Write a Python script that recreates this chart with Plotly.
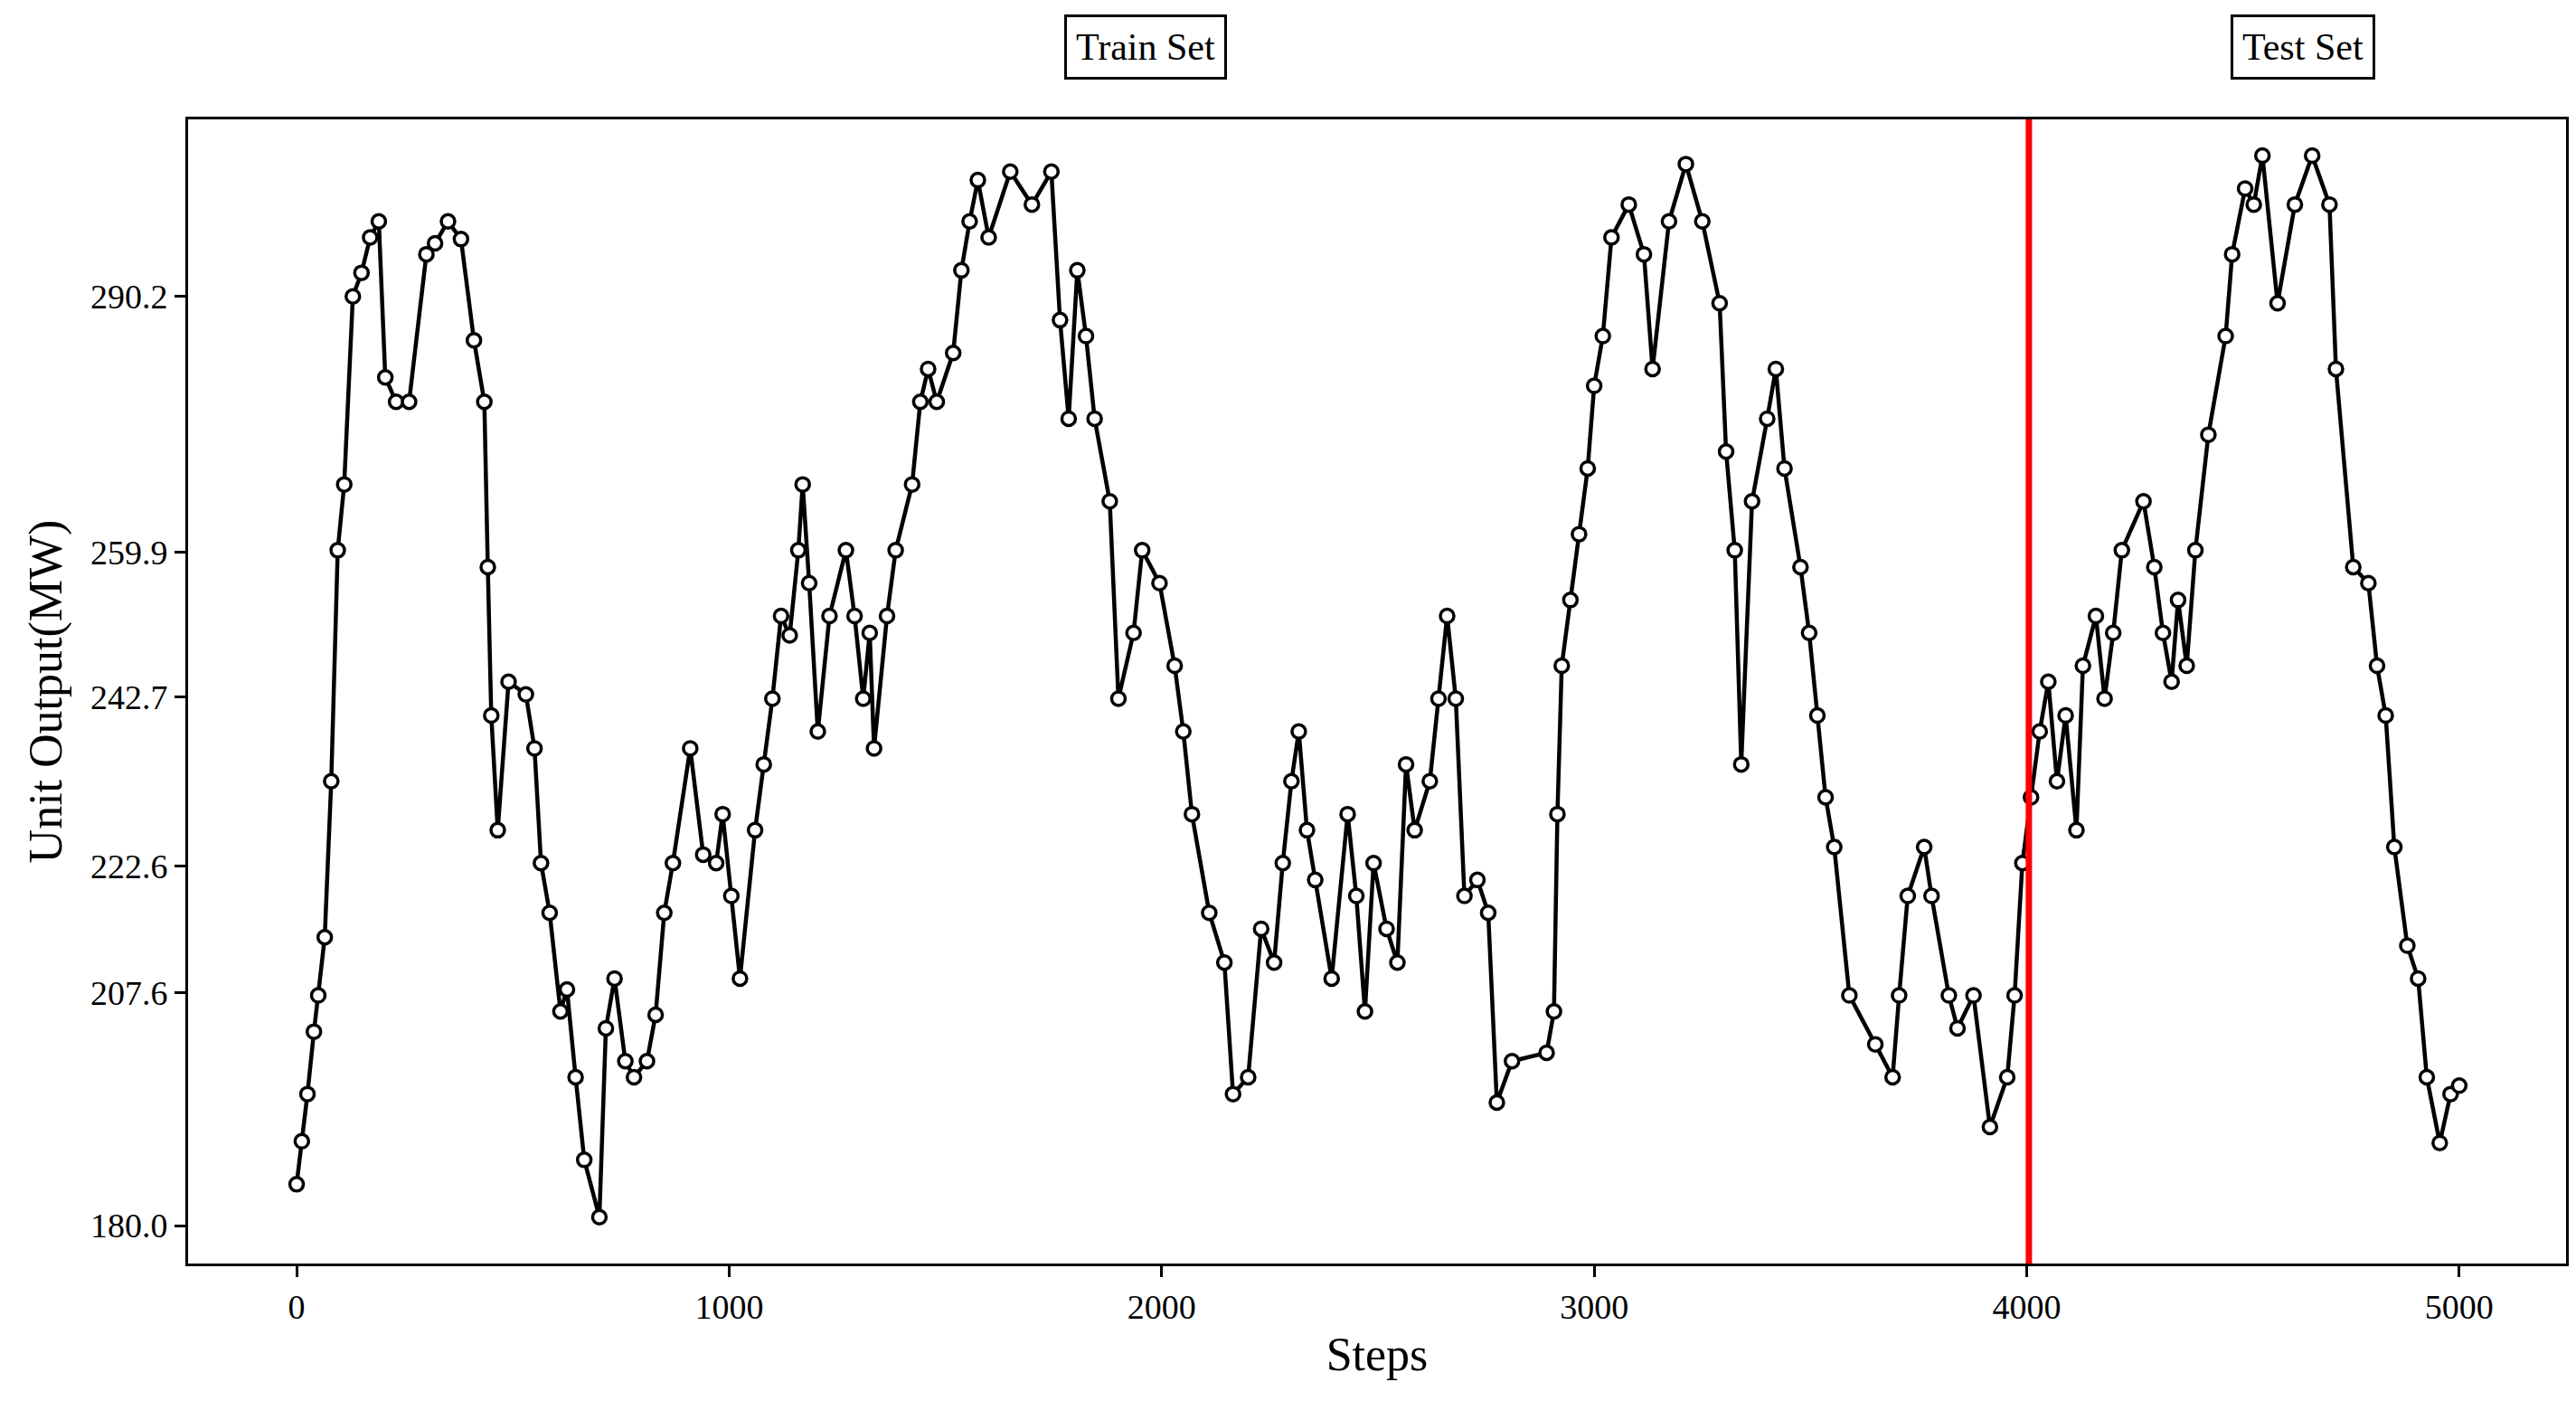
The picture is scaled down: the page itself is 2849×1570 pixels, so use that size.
import plotly.graph_objects as go

steps = [0, 12, 25, 40, 50, 65, 80, 95, 110, 130, 150, 170, 190, 205, 230, 260, 300, 320, 350, 380, 410, 434, 442, 450, 465, 490, 530, 550, 565, 585, 610, 625, 645, 665, 700, 715, 735, 760, 780, 810, 830, 850, 870, 910, 940, 970, 985, 1005, 1025, 1060, 1080, 1100, 1120, 1140, 1160, 1170, 1185, 1205, 1232, 1270, 1290, 1310, 1325, 1335, 1365, 1385, 1423, 1442, 1460, 1480, 1518, 1537, 1556, 1575, 1600, 1650, 1700, 1745, 1765, 1785, 1805, 1825, 1845, 1880, 1900, 1935, 1955, 1995, 2030, 2050, 2070, 2110, 2145, 2165, 2200, 2230, 2260, 2280, 2300, 2317, 2336, 2355, 2393, 2430, 2450, 2470, 2490, 2520, 2545, 2565, 2585, 2620, 2640, 2660, 2680, 2700, 2730, 2755, 2775, 2810, 2890, 2907, 2915, 2925, 2945, 2965, 2985, 3000, 3020, 3040, 3080, 3115, 3135, 3173, 3212, 3250, 3290, 3305, 3325, 3340, 3365, 3400, 3420, 3440, 3477, 3497, 3516, 3535, 3555, 3590, 3650, 3690, 3705, 3725, 3763, 3780, 3820, 3840, 3877, 3915, 3955, 3972, 3990, 4010, 4030, 4050, 4070, 4090, 4115, 4130, 4160, 4180, 4200, 4220, 4270, 4295, 4315, 4335, 4350, 4370, 4390, 4420, 4460, 4475, 4505, 4525, 4545, 4580, 4620, 4660, 4700, 4715, 4755, 4790, 4810, 4830, 4850, 4880, 4905, 4925, 4955, 4980, 5000]
output_mw = [184.9, 190.0, 195.6, 203.0, 207.3, 214.2, 232.7, 260.1, 267.9, 290.2, 293.0, 297.2, 299.1, 280.6, 277.7, 277.7, 295.2, 296.5, 299.1, 297.0, 285.0, 277.7, 258.1, 240.5, 226.9, 244.5, 243.0, 236.6, 223.0, 217.1, 205.4, 208.0, 197.6, 187.8, 181.0, 203.4, 209.3, 199.5, 197.6, 199.5, 205.0, 217.1, 223.0, 236.6, 224.0, 223.0, 228.8, 219.1, 209.3, 226.9, 234.7, 242.5, 252.3, 250.0, 260.1, 267.9, 256.2, 238.6, 252.3, 260.1, 252.3, 242.5, 250.3, 236.6, 252.3, 260.1, 267.9, 277.7, 281.6, 277.7, 283.5, 293.3, 299.1, 304.0, 297.2, 305.0, 301.1, 305.0, 287.4, 275.7, 293.3, 285.5, 275.7, 265.9, 242.5, 250.3, 260.1, 256.2, 246.4, 238.6, 228.8, 217.1, 211.2, 195.6, 197.6, 215.2, 211.2, 223.0, 232.7, 238.6, 226.9, 221.0, 209.3, 228.8, 219.1, 205.4, 223.0, 215.2, 211.2, 234.7, 226.9, 232.7, 242.5, 252.3, 242.5, 219.1, 221.0, 217.1, 194.6, 199.5, 200.5, 205.4, 228.8, 246.4, 254.2, 262.0, 269.8, 279.6, 285.5, 297.2, 301.1, 295.2, 281.6, 299.1, 305.9, 299.1, 289.4, 271.8, 260.1, 234.7, 265.9, 275.7, 281.6, 269.8, 258.1, 250.3, 240.5, 230.8, 224.9, 207.3, 201.5, 197.6, 207.3, 219.1, 224.9, 219.1, 207.3, 203.4, 207.3, 191.7, 197.6, 207.3, 223.0, 230.8, 238.6, 244.5, 232.7, 240.5, 226.9, 246.4, 252.3, 242.5, 250.3, 260.1, 265.9, 258.1, 250.3, 244.5, 254.2, 246.4, 260.1, 273.8, 285.5, 295.2, 303.0, 301.1, 306.9, 289.4, 301.1, 306.9, 301.1, 281.6, 258.1, 256.2, 246.4, 240.5, 224.9, 213.2, 209.3, 197.6, 189.8, 195.6, 196.6]

y_ticks = [180.0, 207.6, 222.6, 242.7, 259.9, 290.2]
x_ticks = [0, 1000, 2000, 3000, 4000, 5000]
split_step = 4005
set_labels = ["Train Set", "Test Set"]
label_steps = [1963, 4638]

FONT = "Liberation Serif"
fig = go.Figure()
fig.add_trace(go.Scatter(x=steps, y=output_mw, mode="lines+markers",
                         line=dict(color="black", width=4.5),
                         marker=dict(symbol="circle", size=15, color="white",
                                     line=dict(color="black", width=3.5)),
                         showlegend=False))
fig.add_shape(type="line", x0=split_step, x1=split_step, y0=0, y1=1, yref="paper",
              line=dict(color="red", width=7))
for t, s in zip(set_labels, label_steps):
    fig.add_annotation(x=s, y=1.035, yref="paper", text=t, showarrow=False,
                       yanchor="bottom", font=dict(family=FONT, size=42, color="black"),
                       bordercolor="black", borderwidth=3, borderpad=10, bgcolor="white")
fig.update_layout(
    width=2849, height=1570, plot_bgcolor="white", paper_bgcolor="white",
    margin=dict(l=200, r=19, t=124, b=181),
    font=dict(family=FONT, size=38, color="black"),
)
axis_common = dict(showline=True, linecolor="black", linewidth=3, mirror=True,
                   showgrid=False, zeroline=False, ticks="outside", ticklen=12,
                   tickwidth=2.5, tickcolor="black")
fig.update_xaxes(range=[-251, 5247], tickvals=x_ticks,
                 title=dict(text="Steps", font=dict(size=52)), **axis_common)
fig.update_yaxes(range=[175.5, 311.2], tickvals=y_ticks,
                 ticktext=[f"{v:.1f}" for v in y_ticks],
                 title=dict(text="Unit Output(MW)", font=dict(size=52)), **axis_common)
fig.write_html("out.html")
